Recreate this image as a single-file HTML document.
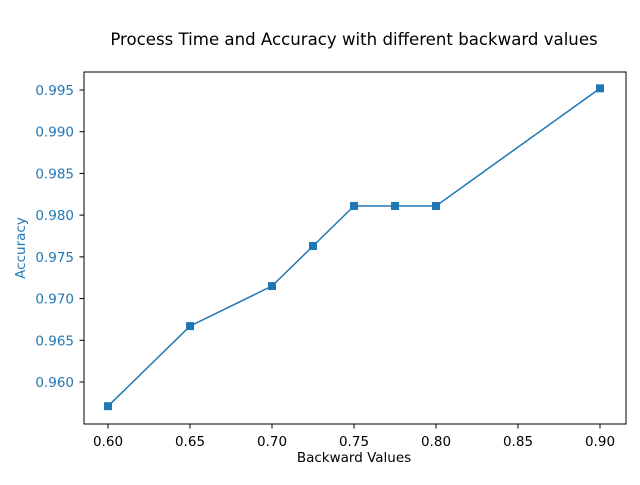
<!DOCTYPE html>
<html><head><meta charset="utf-8"><style>
body{margin:0;background:#fff;}
svg{font-family:"DejaVu Sans","Liberation Sans",sans-serif;}
</style></head><body>
<svg id="chart" width="640" height="480">
<text x="354" y="45" font-size="16.6" text-anchor="middle">Process Time and Accuracy with different backward values</text>
<rect x="84" y="72" width="542" height="352" fill="none" stroke="#000" stroke-width="1"/>
<g id="xticks"></g>
<g id="yticks"></g>
<text x="354" y="462" font-size="13.5" text-anchor="middle">Backward Values</text>
<text x="0" y="0" font-size="13.5" fill="#1f77b4" text-anchor="middle" transform="translate(25,248) rotate(-90)">Accuracy</text>
<g id="series"></g>
</svg>
<script>
const backwardValues=[0.6,0.65,0.7,0.725,0.75,0.775,0.8,0.9];
const accuracyValues=[0.9571,0.9667,0.9715,0.9763,0.9811,0.9811,0.9811,0.9952];
const xTickValues=[0.60,0.65,0.70,0.75,0.80,0.85,0.90];
const yTickValues=[0.960,0.965,0.970,0.975,0.980,0.985,0.990,0.995];
const NS="http://www.w3.org/2000/svg";
function xs(v){return 108+(v-0.6)/0.3*492;}
function ys(v){return 382-(v-0.96)/0.035*292;}
function mk(tag,attrs,parent){const e=document.createElementNS(NS,tag);for(const k in attrs)e.setAttribute(k,attrs[k]);parent.appendChild(e);return e;}
const xg=document.getElementById('xticks'),yg=document.getElementById('yticks'),sg=document.getElementById('series');
xTickValues.forEach(v=>{
 const l=mk('line',{x1:xs(v),x2:xs(v),y1:424,y2:428.5,stroke:'#000'},xg);
 
 
 const t=mk('text',{x:xs(v),y:446,'font-size':13.5,'text-anchor':'middle'},xg);
 t.textContent=v.toFixed(2);
 
 
});
yTickValues.forEach(v=>{
 const l=mk('line',{x1:79.5,x2:84,y1:ys(v),y2:ys(v),stroke:'#000'},yg);
 
 
 const t=mk('text',{x:74,y:ys(v)+5,'font-size':13.5,'text-anchor':'end',fill:'#1f77b4'},yg);
 t.textContent=v.toFixed(3);
 
 
});
const pts=backwardValues.map((x,i)=>xs(x)+','+ys(accuracyValues[i])).join(' ');
const pl=mk('polyline',{points:pts,fill:'none',stroke:'#1f77b4','stroke-width':1.5},sg);


backwardValues.forEach((x,i)=>{
 const r=mk('rect',{x:xs(x)-4,y:ys(accuracyValues[i])-4,width:8,height:8,fill:'#1f77b4'},sg);
 
 
});
</script>
</body></html>
